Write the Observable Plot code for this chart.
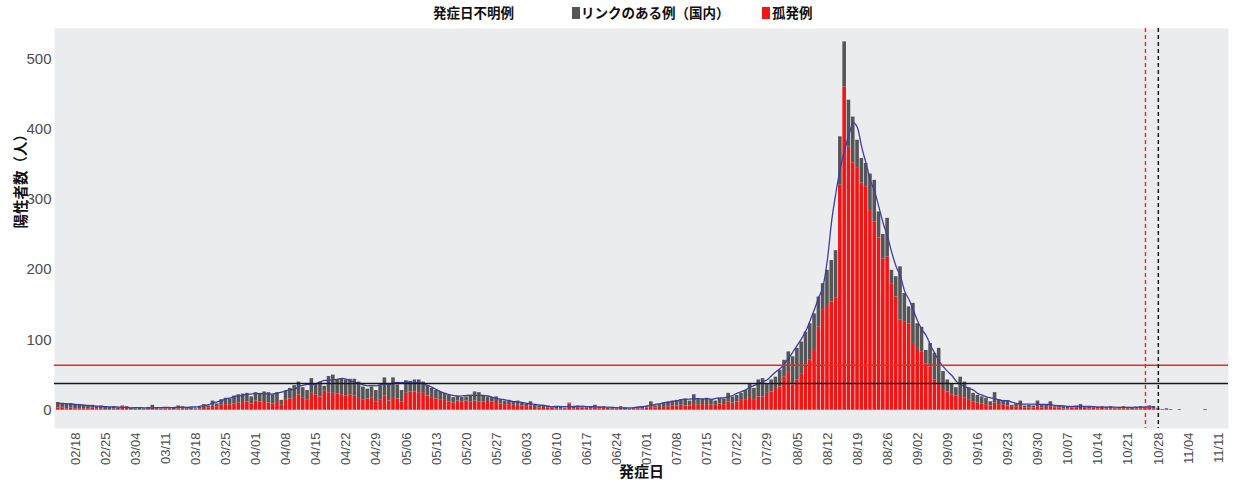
<!DOCTYPE html>
<html><head><meta charset="utf-8">
<script src="https://cdn.jsdelivr.net/npm/d3@7"></script>
<script src="https://cdn.jsdelivr.net/npm/@observablehq/plot@0.6"></script>
<style>
body{margin:0;background:#fff;font-family:"Noto Sans CJK JP",sans-serif;}
#legend{position:relative;height:24px;width:1233px;font-size:13.5px;font-weight:bold;color:#111;}
#legend span{position:absolute;top:3px;line-height:18px;white-space:nowrap;}
#legend i{position:absolute;top:7px;width:8px;height:12px;}
</style></head><body>
<div id="legend"></div>
<div id="chart"></div>
<script>
// ---- data ----
const startDate = "2021-02-14";
// 孤発例 (red) per day from startDate
const isolated = [
 3,3,2,3,2,2,2,2,3,2,2,1,1,2,1,
 5,3,1,1,1,1,2,3,2,1,2,2,1,2,2,2,1,1,2,4,3,6,5,7,8,7,9,10,11,12,9,
 13,12,11,10,9,11,7,14,16,18,22,17,15,24,22,19,27,25,24,23,22,20,22,20,18,15,16,17,12,15,
 20,13,18,16,12,24,26,26,25,24,20,18,16,15,14,12,10,13,12,13,12,13,12,12,11,12,11,9,8,8,7,
 7,6,5,6,4,3,4,3,3,2,2,2,9,2,3,3,3,2,3,2,3,1,2,2,3,1,1,2,2,2,
 3,5,3,4,4,5,6,6,7,6,6,8,7,8,8,7,7,9,8,12,10,12,14,15,18,14,19,19,24,26,31,
 33,47,55,36,43,52,64,71,85,118,142,149,154,160,320,460,374,352,344,323,318,284,268,245,215,218,180,161,128,126,123,
 95,85,83,66,62,43,38,28,26,22,20,21,17,14,12,10,9,8,6,10,8,7,6,4,5,5,3,3,3,5,
 3,4,5,3,3,2,2,3,3,4,3,2,3,2,3,2,2,2,2,2,2,1,2,2,2,3,2,1,1,1,1,
 0,0,0,0,0,0,0,0
];
// リンクのある例（国内） (gray) per day from startDate
const linked = [
 8,7,7,6,6,6,5,4,4,3,4,4,3,3,2,
 1,2,2,1,2,1,2,4,1,1,1,2,2,4,3,2,2,1,2,4,3,7,4,8,9,9,11,12,12,12,10,
 12,12,15,15,13,14,7,13,15,17,18,15,13,21,15,21,7,23,26,21,23,23,22,24,22,18,14,16,16,20,
 26,25,28,20,16,18,15,17,18,16,15,13,12,11,10,9,8,7,6,6,9,13,13,8,8,6,8,6,5,6,5,
 6,4,4,6,3,3,3,3,2,2,2,1,1,2,3,2,2,2,4,2,2,2,2,1,2,2,1,1,2,2,
 2,7,3,4,6,7,7,8,8,10,7,14,8,8,9,8,6,8,8,12,9,9,10,13,20,17,24,26,14,17,16,
 24,24,28,40,45,45,47,52,52,43,38,50,59,67,69,64,67,65,40,35,33,52,59,37,35,55,19,29,76,40,24,
 57,38,35,19,33,38,50,27,17,16,12,26,23,18,12,11,10,9,6,15,7,7,7,3,4,8,3,4,3,8,
 4,4,7,2,3,3,2,2,3,4,2,2,2,2,2,2,3,1,2,3,2,2,2,3,2,3,3,1,0,1,0,
 0,1,0,0,0,0,0,1
];
const tickLabels = ["02/18","02/25","03/04","03/11","03/18","03/25","04/01","04/08","04/15","04/22","04/29",
 "05/06","05/13","05/20","05/27","06/03","06/10","06/17","06/24","07/01","07/08","07/15","07/22","07/29",
 "08/05","08/12","08/19","08/26","09/02","09/09","09/16","09/23","09/30","10/07","10/14","10/21","10/28","11/04","11/11"];
const yTicks = [0,100,200,300,400,500];
const hLineRed = 64, hLineBlack = 38;
const vLineRed = "10/25", vLineBlack = "10/28";
const lineEnd = "10/27";
const legendItems = ["発症日不明例","リンクのある例（国内）","孤発例"];

// ---- build ----
const year = 2021;
const md = s => { const [m,d] = s.split("/").map(Number); return new Date(Date.UTC(year, m-1, d)); };
const start = new Date(startDate + "T00:00:00Z");
const HALF = 12*3600*1000;
const rows = isolated.map((r,i) => {
  const date = d3.utcDay.offset(start, i);
  const g = linked[i];
  return {date, red: r, gray: g, total: r + g};
});
const lineRows = rows.filter(d => d.date <= md(lineEnd));

const RED = "#f01616", GRAY = "#555555", BLUE = "#3d3da8";

const chart = Plot.plot({
  width: 1233, height: 464,
  marginTop: 4, marginBottom: 60, marginLeft: 54, marginRight: 5,
  style: {fontFamily: "'Liberation Sans', Arial, sans-serif", color: "#4d4d4d", background: "#fff"},
  x: {type: "utc", domain: [new Date(+md("02/18") - 4.89*86400000), new Date(+md("11/11") + 2.33*86400000)]},
  y: {domain: [-26, 543]},
  marks: [
    Plot.frame({fill: "#ebecee", stroke: null}),
    Plot.rectY(rows.filter(d => d.red > 0), {x1: d => new Date(+d.date - HALF), x2: d => new Date(+d.date + HALF), y1: 0, y2: "red", fill: RED, insetLeft: 0.35, insetRight: 0.35}),
    Plot.rectY(rows.filter(d => d.gray > 0), {x1: d => new Date(+d.date - HALF), x2: d => new Date(+d.date + HALF), y1: "red", y2: "total", fill: GRAY, insetLeft: 0.35, insetRight: 0.35}),
    Plot.lineY(lineRows, Plot.windowY({k: 7, anchor: "middle"}, {x: "date", y: "total", stroke: BLUE, strokeWidth: 1.3, curve: "monotone-x"})),
    Plot.ruleY([hLineRed], {stroke: "#ec2a1a", strokeWidth: 1.4}),
    Plot.ruleY([hLineBlack], {stroke: "#1a1a1a", strokeWidth: 1.3}),
    Plot.ruleX([md(vLineRed)], {stroke: "#ff1e1e", strokeWidth: 1.4, strokeDasharray: "4,3"}),
    Plot.ruleX([md(vLineBlack)], {stroke: "#1a1a1a", strokeWidth: 1.5, strokeDasharray: "4,3"}),
    Plot.axisY({ticks: yTicks, tickSize: 0, tickPadding: 3, fontSize: 15, label: null}),
    Plot.axisX({ticks: tickLabels.map(md), tickFormat: d3.utcFormat("%m/%d"), tickRotate: -90, tickSize: 0, tickPadding: 4, fontSize: 13, label: null}),
    Plot.text(["陽性者数（人）"], {frameAnchor: "left", dx: -33, rotate: -90, fontSize: 14.5, fontWeight: "bold", fill: "#111", fontFamily: "'Noto Sans CJK JP', sans-serif"}),
    Plot.text(["発症日"], {frameAnchor: "bottom", dy: 48, fontSize: 15, fontWeight: "bold", fill: "#111", fontFamily: "'Noto Sans CJK JP', sans-serif"})
  ]
});
document.getElementById("chart").append(chart);

// legend
const lg = document.getElementById("legend");
const pos = [{t: 433}, {s: 572, c: GRAY, t: 581}, {s: 762, c: RED, t: 772}];
legendItems.forEach((txt, i) => {
  const p = pos[i];
  if (p.s != null) { const sw = document.createElement("i"); sw.style.left = p.s + "px"; sw.style.background = p.c; lg.append(sw); }
  const sp = document.createElement("span"); sp.style.left = p.t + "px"; sp.textContent = txt; lg.append(sp);
});
</script>
</body></html>
